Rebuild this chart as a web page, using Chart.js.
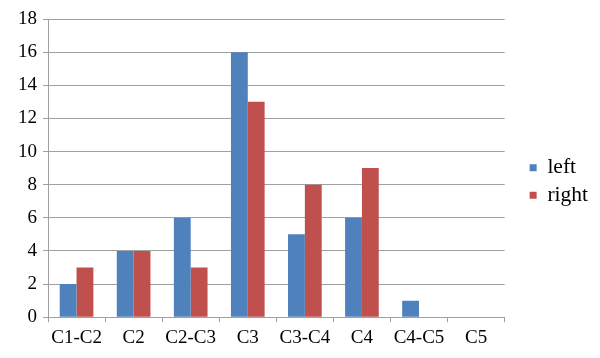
<!DOCTYPE html>
<html>
<head>
<meta charset="utf-8">
<script src="https://cdn.jsdelivr.net/npm/chart.js@4"></script>
<style>
  html, body { margin: 0; padding: 0; background: #fff; }
  #wrap { width: 600px; height: 358px; }
</style>
</head>
<body>
<div id="wrap"><canvas id="chart"></canvas></div>
<script>
const categories = ['C1-C2', 'C2', 'C2-C3', 'C3', 'C3-C4', 'C4', 'C4-C5', 'C5'];
const leftValues = [2, 4, 6, 16, 5, 6, 1, 0];
const rightValues = [3, 4, 3, 13, 8, 9, 0, 0];

const serif = '"Liberation Serif", "Times New Roman", serif';
const font = { family: serif, size: 19 };

new Chart(document.querySelector('#chart').getContext('2d'), {
    type: 'bar',
    data: {
        labels: categories,
        datasets: [
            { label: 'left', data: leftValues, backgroundColor: '#4F81BD' },
            { label: 'right', data: rightValues, backgroundColor: '#C0504D' }
        ]
    },
    options: {
        responsive: true,
        maintainAspectRatio: false,
        animation: false,
        layout: { padding: { top: 19, right: 2, left: 12, bottom: 5 } },
        datasets: { bar: { categoryPercentage: 0.59, barPercentage: 1 } },
        plugins: {
            legend: {
                position: 'right',
                align: 'start',
                // empty title only pushes the items down
                title: { display: true, text: '', font: { size: 10 }, padding: { top: 120, bottom: 0 } },
                labels: { boxWidth: 7, boxHeight: 7, color: '#000', font: { family: serif, size: 21.5 }, padding: 6 }
            },
            tooltip: { enabled: false }
        },
        scales: {
            x: {
                grid: { drawOnChartArea: false, color: '#a0a0a0', tickLength: 5 },
                border: { color: '#a0a0a0' },
                ticks: { color: '#000', font: font, maxRotation: 0, padding: 4 }
            },
            y: {
                min: 0, max: 18,
                ticks: { stepSize: 2, color: '#000', font: font, padding: 6 },
                grid: { color: '#a0a0a0', tickLength: 5 },
                border: { color: '#a0a0a0' }
            },
            // empty spacer between plot and legend
            gap: {
                position: 'right',
                grid: { display: false },
                border: { display: false },
                ticks: { display: false },
                afterFit(scale) { scale.width = 19; }
            }
        }
    }
});
</script>
</body>
</html>
